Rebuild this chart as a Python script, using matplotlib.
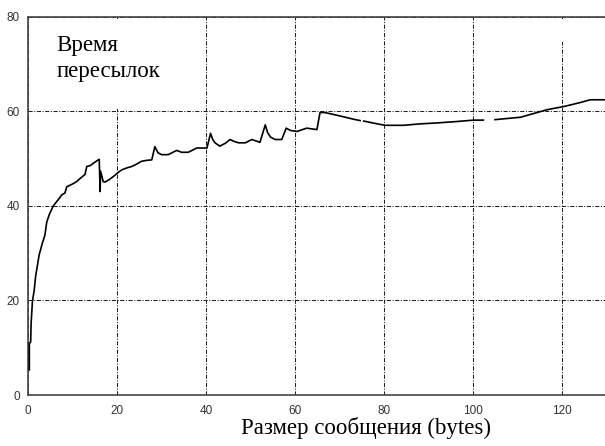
import numpy as np
import matplotlib.pyplot as plt
from matplotlib.patches import Rectangle

# message size (bytes) vs transfer time
size = [0.3, 0.3, 0.6, 0.7, 1.0, 1.4, 1.7, 2.5, 3.2, 3.8, 4.2, 4.8, 5.7, 6.8,
        7.6, 8.3, 8.7, 10.0, 10.9, 12.0, 12.8, 13.2, 14.0, 14.7, 15.8, 16.0,
        16.2, 16.3, 16.9, 17.3, 18.2, 19.2, 20.2, 21.1, 22.2, 23.3, 24.4, 25.5,
        26.7, 27.8, 28.5, 29.2, 30.0, 31.5, 33.4, 34.5, 36.0, 37.9, 40.2, 41.0,
        41.5, 42.0, 43.1, 44.3, 45.4, 46.3, 47.3, 48.8, 50.3, 52.1, 53.3, 53.8,
        54.5, 55.5, 57.0, 58.0, 59.0, 60.4, 62.6, 64.9, 65.6, 66.7, 70.0, 73.1,
        74.6, np.nan, 75.4, 78.0, 80.2, 84.3, 88.0, 91.8, 96.3, 100.1, 102.3,
        np.nan, 104.9, 108.3, 110.6, 113.6, 116.6, 120.5, 124.0, 126.3, 129.7]
time_ = [5.3, 10.9, 11.2, 15.2, 19.8, 22.2, 25.0, 29.6, 32.0, 33.8, 36.5, 38.2,
         40.0, 41.3, 42.3, 42.7, 44.0, 44.6, 45.1, 46.0, 46.6, 48.3, 48.5, 49.0,
         49.7, 49.8, 43.0, 47.3, 45.1, 45.0, 45.5, 46.2, 47.0, 47.6, 48.0, 48.3,
         48.8, 49.4, 49.6, 49.7, 52.5, 51.2, 50.8, 50.8, 51.7, 51.3, 51.3, 52.2,
         52.2, 55.3, 54.0, 53.3, 52.6, 53.2, 54.0, 53.6, 53.3, 53.3, 54.0, 53.4,
         57.1, 55.5, 54.5, 54.0, 54.0, 56.4, 55.9, 55.7, 56.4, 56.1, 59.7, 59.7,
         59.0, 58.3, 58.0, np.nan, 57.9, 57.4, 57.0, 57.0, 57.3, 57.5, 57.8,
         58.1, 58.1, np.nan, 58.2, 58.5, 58.7, 59.5, 60.3, 61.0, 61.8, 62.4, 62.4]

x_ticks = [0, 20, 40, 60, 80, 100, 120]
y_ticks = [0, 20, 40, 60, 80]

fig = plt.figure(figsize=(6.05, 4.46), dpi=100)
ax = fig.add_axes([28 / 605, 51 / 446, 576.5 / 605, 378.5 / 446])

ax.plot(size, time_, color='black', linewidth=1.2, zorder=4)

ax.set_xlim(0, 129.5)
ax.set_ylim(0, 80)
ax.set_xticks(x_ticks)
ax.set_yticks(y_ticks)
ax.grid(True, color='#222222', linewidth=0.75, linestyle=(0, (4, 1.5, 1, 1.5)))
ax.set_axisbelow(True)
ax.tick_params(length=0, labelsize=8.5, labelcolor='#333333')
ax.tick_params(axis='x', pad=7)
ax.tick_params(axis='y', pad=6)
for lbl in ax.get_xticklabels() + ax.get_yticklabels():
    lbl.set_fontfamily('Liberation Sans')

for s in ['left', 'bottom', 'top']:
    ax.spines[s].set_color('#444444')
    ax.spines[s].set_linewidth(1.2)
ax.spines['right'].set_visible(False)

# blank out the grid behind the label and one stray spot
ax.add_patch(Rectangle((0.5, 60.5), 31.5, 18.9, facecolor='white',
                       edgecolor='none', zorder=2))
ax.add_patch(Rectangle((119.5, 74.7), 1.0, 4.7, facecolor='white',
                       edgecolor='none', zorder=2))

ax.text(6.4, 76.0, 'Время\nпересылок', fontsize=16.5, family='Liberation Serif',
        va='top', ha='left', linespacing=1.3, zorder=5)

fig.text(366 / 605, 1 - 428 / 446, 'Размер сообщения (bytes)', fontsize=16.5,
         family='Liberation Serif', ha='center', va='center')

fig.savefig('out.png', dpi=100)
